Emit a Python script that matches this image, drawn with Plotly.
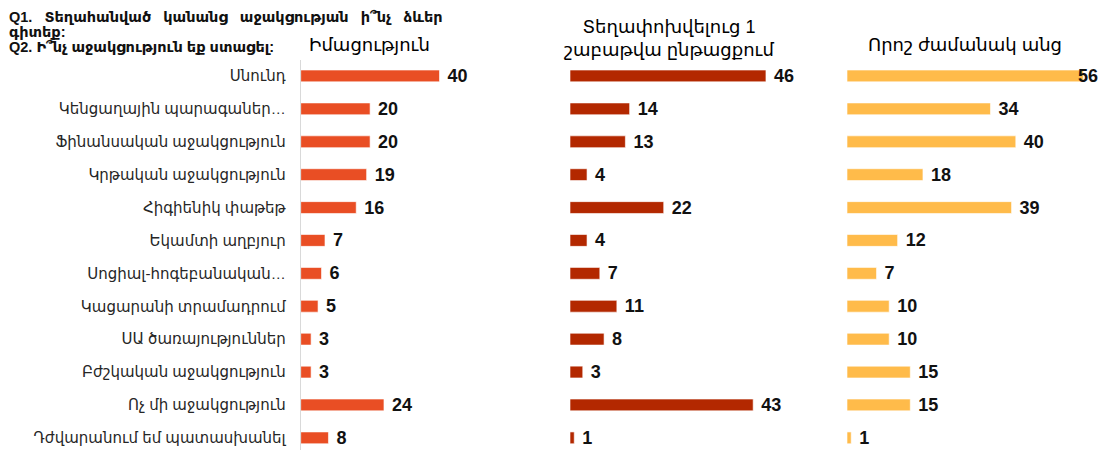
import plotly.graph_objects as go

# --- data ---
categories = [
    "Սնունդ",
    "Կենցաղային պարագաներ…",
    "Ֆինանսական աջակցություն",
    "Կրթական աջակցություն",
    "Հիգիենիկ փաթեթ",
    "Եկամտի աղբյուր",
    "Սոցիալ-հոգեբանական…",
    "Կացարանի տրամադրում",
    "ՍԱ ծառայություններ",
    "Բժշկական աջակցություն",
    "Ոչ մի աջակցություն",
    "Դժվարանում եմ պատասխանել",
]
knowledge = [40, 20, 20, 19, 16, 7, 6, 5, 3, 3, 24, 8]
first_week = [46, 14, 13, 4, 22, 4, 7, 11, 8, 3, 43, 1]
later_on = [56, 34, 40, 18, 39, 12, 7, 10, 10, 15, 15, 1]
panel_titles = ["Իմացություն", "Տեղափոխվելուց 1<br>շաբաթվա ընթացքում", "Որոշ ժամանակ անց"]

# sayfa gövdesi 8px kenar boşluğu ekliyor -> figür 1100x442
OFF = 8
W, H = 1108 - OFF, 450 - OFF
FONT = "Liberation Sans, Arial, DejaVu Sans, sans-serif"
LABEL_FONT = dict(family=FONT, size=18, color="#111111", weight="bold")

def px(x):
    return (x - OFF) / W

def py(y):
    return 1 - (y - OFF) / H

fig = go.Figure()

# paneller: (veri, renk, x ekseni, başlangıç px, ölçek px/birim, range)
panels = [
    (knowledge, "#E94E24", "x", 300.7, 3.47, 62),
    (first_week, "#B32800", "x2", 570, 4.26, 52),
    (later_on, "#FFBB4A", "x3", 847, 4.22, 61.5),
]

layout_axes = {}
for vals, color, xa, x0, scale, rng in panels:
    x1 = x0 + scale * rng
    labels = ["\u00a0" + str(v) for v in vals]
    if xa == "x3":
        labels[0] = ""  # sağ kenarda sıkışan etiket -> annotation ile
        fig.add_annotation(
            x=vals[0], y=categories[0], xref="x3", yref="y",
            text=str(vals[0]), showarrow=False, xanchor="left", yanchor="middle",
            xshift=-7, font=LABEL_FONT,
        )
    fig.add_trace(go.Bar(
        x=vals, y=categories, orientation="h",
        xaxis=xa, yaxis="y",
        marker=dict(color=color, line=dict(color="rgba(255,255,255,0.6)", width=1)),
        width=0.36,
        text=labels, textposition="outside", cliponaxis=False,
        constraintext="none",
        textfont=LABEL_FONT,
        showlegend=False, hoverinfo="skip",
    ))
    key = "xaxis" if xa == "x" else "xaxis" + xa[1:]
    layout_axes[key] = dict(
        domain=[px(x0), min(px(x1), 1)], range=[0, rng],
        visible=False, fixedrange=True,
        anchor="y",
    )

fig.update_layout(**layout_axes)

top_px = 59.5
band = 32.9
k = (450 - top_px) / band
fig.update_layout(
    width=W, height=H,
    margin=dict(l=0, r=0, t=0, b=0),
    paper_bgcolor="white", plot_bgcolor="white",
    yaxis=dict(
        type="category", categoryorder="array", categoryarray=categories,
        range=[k - 0.5, -0.5],
        domain=[0, py(top_px)],
        anchor="x",
        showgrid=False, zeroline=False,
        showline=True, linecolor="#d9d9d9", linewidth=1,
        ticks="", ticklabelstandoff=11,
        tickfont=dict(family=FONT, size=15, color="#262626"),
    ),
)

# panel başlıkları
title_pos = [(369, 45), (669, 39), (965, 45)]
for t, (x, y) in zip(panel_titles, title_pos):
    fig.add_annotation(
        x=px(x), y=py(y), xref="paper", yref="paper",
        text=t, showarrow=False, xanchor="center", yanchor="middle",
        font=dict(family=FONT, size=18, color="#000000"),
    )

# soru metni (sol üst)
sp = "\u00a0\u00a0\u00a0"
q_lines = [
    ("Q1." + sp + sp.join(["Տեղահանված", "կանանց", "աջակցության", "ի՞նչ", "ձևեր"]), 17),
    ("գիտեք:", 32),
    ("Q2. Ի՞նչ աջակցություն եք ստացել:", 47),
]
for t, y in q_lines:
    fig.add_annotation(
        x=px(8), y=py(y), xref="paper", yref="paper",
        text=t, showarrow=False, xanchor="left", yanchor="middle",
        borderpad=0,
        font=dict(family=FONT, size=14.5, color="#111111", weight="bold"),
    )

fig.write_html("out.html")
